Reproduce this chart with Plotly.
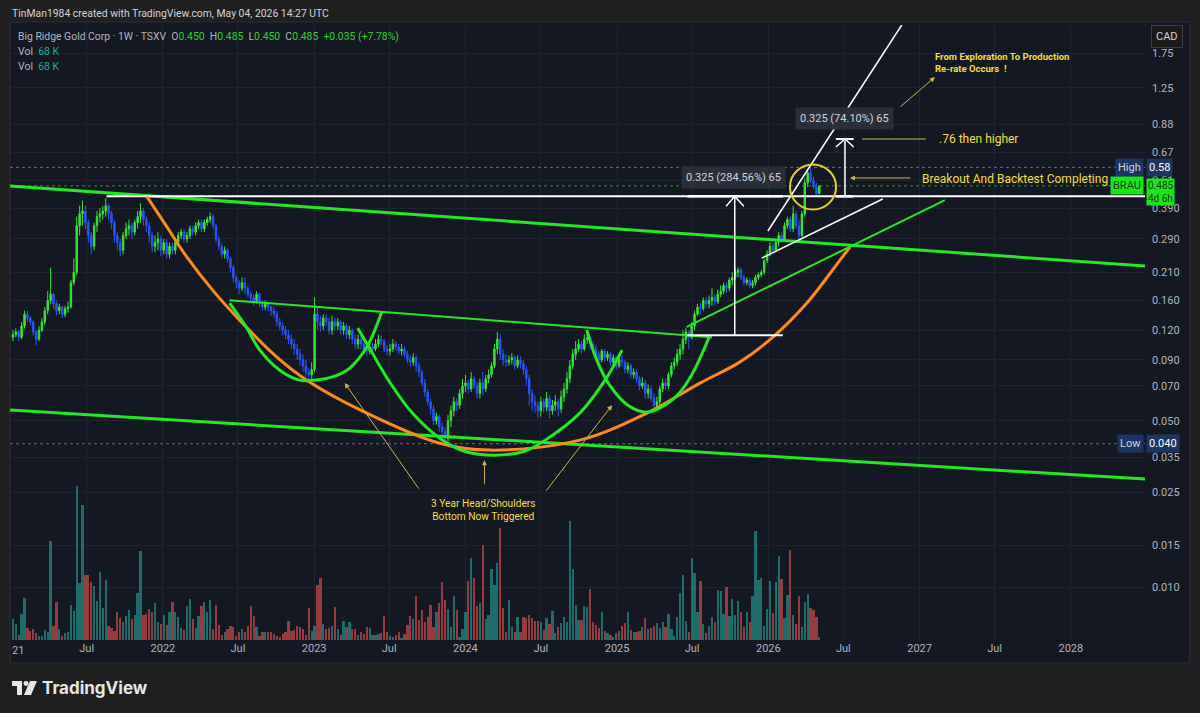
import math
import pandas as pd
import plotly.graph_objects as go

# ---------------- DATA ----------------
week_start = "2021-01-04"

open_ = [
    0.112, 0.115, 0.118, 0.112, 0.125, 0.14, 0.135, 0.13, 0.118, 0.11,
    0.12, 0.13, 0.145, 0.16, 0.17, 0.155, 0.145, 0.15, 0.14, 0.148,
    0.15, 0.19, 0.21, 0.33, 0.37, 0.38, 0.34, 0.3, 0.27, 0.33,
    0.36, 0.37, 0.38, 0.4, 0.37, 0.34, 0.3, 0.28, 0.26, 0.3,
    0.32, 0.33, 0.31, 0.34, 0.36, 0.38, 0.35, 0.33, 0.3, 0.27,
    0.28, 0.29, 0.26, 0.28, 0.25, 0.27, 0.26, 0.28, 0.3, 0.31,
    0.29, 0.3, 0.32, 0.31, 0.33, 0.34, 0.32, 0.34, 0.35, 0.36,
    0.33, 0.29, 0.27, 0.25, 0.26, 0.24, 0.22, 0.2, 0.19, 0.18,
    0.19, 0.18, 0.17, 0.165, 0.16, 0.17, 0.155, 0.15, 0.155, 0.15,
    0.145, 0.14, 0.13, 0.125, 0.12, 0.115, 0.11, 0.105, 0.1, 0.095,
    0.09, 0.085, 0.08, 0.078, 0.082, 0.14, 0.13, 0.125, 0.135, 0.13,
    0.12, 0.13, 0.125, 0.13, 0.12, 0.125, 0.115, 0.12, 0.11, 0.105,
    0.11, 0.105, 0.1, 0.098, 0.102, 0.1, 0.105, 0.11, 0.108, 0.1,
    0.098, 0.1, 0.105, 0.102, 0.098, 0.1, 0.095, 0.09, 0.088, 0.092,
    0.085, 0.08, 0.072, 0.066, 0.06, 0.056, 0.05, 0.052, 0.047, 0.045,
    0.042, 0.05, 0.055, 0.06, 0.058, 0.065, 0.07, 0.072, 0.068, 0.075,
    0.07, 0.065, 0.072, 0.068, 0.075, 0.078, 0.085, 0.1, 0.11, 0.095,
    0.09, 0.088, 0.09, 0.092, 0.085, 0.09, 0.087, 0.082, 0.075, 0.065,
    0.06, 0.058, 0.055, 0.06, 0.057, 0.062, 0.055, 0.058, 0.06, 0.056,
    0.063, 0.068, 0.075, 0.085, 0.095, 0.1, 0.105, 0.1, 0.11, 0.112,
    0.105, 0.1, 0.095, 0.09, 0.098, 0.092, 0.095, 0.088, 0.092, 0.085,
    0.09, 0.088, 0.082, 0.085, 0.078, 0.08, 0.075, 0.07, 0.072, 0.065,
    0.068, 0.062, 0.058, 0.06, 0.068, 0.072, 0.07, 0.078, 0.085, 0.088,
    0.095, 0.1, 0.11, 0.118, 0.112, 0.125, 0.14, 0.15, 0.148, 0.16,
    0.155, 0.16, 0.165, 0.158, 0.17, 0.175, 0.185, 0.18, 0.195, 0.2,
    0.21, 0.215, 0.2, 0.19, 0.195, 0.185, 0.19, 0.2, 0.205, 0.21,
    0.235, 0.25, 0.27, 0.26, 0.28, 0.3, 0.29, 0.33, 0.35, 0.32,
    0.37, 0.33, 0.3, 0.37, 0.5, 0.55, 0.51, 0.48, 0.45,
]
high = [
    0.12, 0.122, 0.12, 0.13, 0.145, 0.145, 0.138, 0.132, 0.12, 0.125,
    0.135, 0.15, 0.175, 0.22, 0.172, 0.16, 0.155, 0.152, 0.152, 0.158,
    0.195, 0.24, 0.36, 0.4, 0.42, 0.4, 0.35, 0.31, 0.34, 0.38,
    0.39, 0.4, 0.43, 0.41, 0.38, 0.35, 0.31, 0.29, 0.31, 0.34,
    0.35, 0.34, 0.35, 0.38, 0.41, 0.39, 0.36, 0.34, 0.31, 0.3,
    0.31, 0.3, 0.29, 0.29, 0.28, 0.28, 0.29, 0.31, 0.32, 0.32,
    0.31, 0.33, 0.33, 0.34, 0.35, 0.35, 0.35, 0.36, 0.375, 0.37,
    0.335, 0.3, 0.28, 0.27, 0.265, 0.245, 0.225, 0.205, 0.195, 0.2,
    0.2, 0.185, 0.175, 0.17, 0.175, 0.172, 0.16, 0.16, 0.158, 0.152,
    0.15, 0.145, 0.135, 0.13, 0.125, 0.12, 0.115, 0.11, 0.105, 0.1,
    0.095, 0.09, 0.083, 0.088, 0.165, 0.15, 0.138, 0.14, 0.14, 0.135,
    0.138, 0.135, 0.135, 0.132, 0.13, 0.128, 0.125, 0.122, 0.115, 0.115,
    0.115, 0.11, 0.104, 0.106, 0.106, 0.11, 0.115, 0.114, 0.11, 0.104,
    0.105, 0.11, 0.108, 0.105, 0.105, 0.103, 0.098, 0.094, 0.096, 0.094,
    0.088, 0.082, 0.075, 0.068, 0.062, 0.058, 0.054, 0.053, 0.049, 0.047,
    0.053, 0.058, 0.063, 0.062, 0.068, 0.075, 0.078, 0.074, 0.08, 0.077,
    0.073, 0.075, 0.08, 0.078, 0.082, 0.088, 0.105, 0.118, 0.116, 0.1,
    0.095, 0.094, 0.096, 0.094, 0.094, 0.093, 0.09, 0.085, 0.078, 0.068,
    0.064, 0.06, 0.063, 0.062, 0.066, 0.064, 0.061, 0.064, 0.062, 0.067,
    0.072, 0.08, 0.09, 0.1, 0.108, 0.11, 0.108, 0.115, 0.12, 0.114,
    0.108, 0.104, 0.098, 0.1, 0.1, 0.098, 0.097, 0.095, 0.094, 0.093,
    0.094, 0.09, 0.088, 0.087, 0.083, 0.082, 0.077, 0.076, 0.074, 0.071,
    0.07, 0.065, 0.063, 0.07, 0.075, 0.075, 0.08, 0.088, 0.092, 0.1,
    0.105, 0.12, 0.123, 0.12, 0.13, 0.145, 0.155, 0.156, 0.165, 0.165,
    0.168, 0.18, 0.17, 0.178, 0.185, 0.19, 0.19, 0.2, 0.21, 0.22,
    0.22, 0.22, 0.205, 0.2, 0.198, 0.195, 0.205, 0.21, 0.215, 0.24,
    0.26, 0.28, 0.28, 0.29, 0.31, 0.31, 0.34, 0.36, 0.36, 0.4,
    0.38, 0.35, 0.38, 0.52, 0.56, 0.58, 0.53, 0.5, 0.485,
]
low = [
    0.108, 0.112, 0.108, 0.11, 0.122, 0.13, 0.126, 0.114, 0.104, 0.108,
    0.118, 0.126, 0.14, 0.155, 0.148, 0.138, 0.14, 0.135, 0.136, 0.142,
    0.148, 0.185, 0.205, 0.3, 0.33, 0.32, 0.28, 0.25, 0.26, 0.31,
    0.34, 0.35, 0.36, 0.35, 0.32, 0.28, 0.26, 0.245, 0.25, 0.29,
    0.3, 0.29, 0.3, 0.32, 0.34, 0.33, 0.31, 0.28, 0.255, 0.255,
    0.26, 0.245, 0.25, 0.24, 0.24, 0.25, 0.25, 0.27, 0.29, 0.28,
    0.28, 0.29, 0.3, 0.3, 0.32, 0.31, 0.31, 0.33, 0.34, 0.32,
    0.28, 0.26, 0.24, 0.24, 0.23, 0.21, 0.19, 0.18, 0.17, 0.175,
    0.17, 0.165, 0.158, 0.152, 0.155, 0.15, 0.145, 0.146, 0.144, 0.138,
    0.135, 0.125, 0.12, 0.114, 0.11, 0.105, 0.1, 0.095, 0.09, 0.085,
    0.08, 0.076, 0.074, 0.075, 0.08, 0.12, 0.118, 0.12, 0.125, 0.115,
    0.115, 0.12, 0.12, 0.115, 0.115, 0.11, 0.11, 0.105, 0.1, 0.1,
    0.1, 0.096, 0.094, 0.095, 0.096, 0.098, 0.102, 0.104, 0.097, 0.094,
    0.094, 0.097, 0.098, 0.095, 0.094, 0.092, 0.087, 0.084, 0.085, 0.08,
    0.076, 0.07, 0.063, 0.058, 0.053, 0.048, 0.048, 0.045, 0.043, 0.04,
    0.041, 0.047, 0.052, 0.055, 0.056, 0.062, 0.066, 0.065, 0.066, 0.068,
    0.062, 0.062, 0.064, 0.066, 0.072, 0.076, 0.083, 0.095, 0.09, 0.085,
    0.084, 0.085, 0.086, 0.082, 0.083, 0.083, 0.078, 0.07, 0.058, 0.055,
    0.054, 0.051, 0.052, 0.054, 0.055, 0.051, 0.053, 0.055, 0.052, 0.054,
    0.06, 0.065, 0.072, 0.082, 0.09, 0.097, 0.096, 0.098, 0.105, 0.1,
    0.096, 0.09, 0.086, 0.088, 0.088, 0.089, 0.085, 0.085, 0.082, 0.083,
    0.084, 0.079, 0.079, 0.075, 0.075, 0.072, 0.067, 0.068, 0.062, 0.062,
    0.06, 0.0565, 0.056, 0.058, 0.066, 0.067, 0.068, 0.076, 0.082, 0.085,
    0.09, 0.095, 0.105, 0.1, 0.11, 0.12, 0.138, 0.14, 0.145, 0.148,
    0.148, 0.152, 0.152, 0.155, 0.165, 0.17, 0.172, 0.175, 0.185, 0.195,
    0.2, 0.195, 0.185, 0.185, 0.18, 0.18, 0.185, 0.195, 0.2, 0.205,
    0.23, 0.245, 0.25, 0.255, 0.27, 0.28, 0.285, 0.32, 0.31, 0.31,
    0.32, 0.287, 0.295, 0.36, 0.48, 0.5, 0.47, 0.44, 0.45,
]
close = [
    0.115, 0.118, 0.112, 0.125, 0.14, 0.135, 0.13, 0.118, 0.11, 0.12,
    0.13, 0.145, 0.16, 0.17, 0.155, 0.145, 0.15, 0.14, 0.148, 0.15,
    0.19, 0.21, 0.33, 0.37, 0.38, 0.34, 0.3, 0.27, 0.33, 0.36,
    0.37, 0.38, 0.4, 0.37, 0.34, 0.3, 0.28, 0.26, 0.3, 0.32,
    0.33, 0.31, 0.34, 0.36, 0.38, 0.35, 0.33, 0.3, 0.27, 0.28,
    0.29, 0.26, 0.28, 0.25, 0.27, 0.26, 0.28, 0.3, 0.31, 0.29,
    0.3, 0.32, 0.31, 0.33, 0.34, 0.32, 0.34, 0.35, 0.36, 0.33,
    0.29, 0.27, 0.25, 0.26, 0.24, 0.22, 0.2, 0.19, 0.18, 0.19,
    0.18, 0.17, 0.165, 0.16, 0.17, 0.155, 0.15, 0.155, 0.15, 0.145,
    0.14, 0.13, 0.125, 0.12, 0.115, 0.11, 0.105, 0.1, 0.095, 0.09,
    0.085, 0.08, 0.078, 0.082, 0.14, 0.13, 0.125, 0.135, 0.13, 0.12,
    0.13, 0.125, 0.13, 0.12, 0.125, 0.115, 0.12, 0.11, 0.105, 0.11,
    0.105, 0.1, 0.098, 0.102, 0.1, 0.105, 0.11, 0.108, 0.1, 0.098,
    0.1, 0.105, 0.102, 0.098, 0.1, 0.095, 0.09, 0.088, 0.092, 0.085,
    0.08, 0.072, 0.066, 0.06, 0.056, 0.05, 0.052, 0.047, 0.045, 0.042,
    0.05, 0.055, 0.06, 0.058, 0.065, 0.07, 0.072, 0.068, 0.075, 0.07,
    0.065, 0.072, 0.068, 0.075, 0.078, 0.085, 0.1, 0.11, 0.095, 0.09,
    0.088, 0.09, 0.092, 0.085, 0.09, 0.087, 0.082, 0.075, 0.065, 0.06,
    0.058, 0.055, 0.06, 0.057, 0.062, 0.055, 0.058, 0.06, 0.056, 0.063,
    0.068, 0.075, 0.085, 0.095, 0.1, 0.105, 0.1, 0.11, 0.112, 0.105,
    0.1, 0.095, 0.09, 0.098, 0.092, 0.095, 0.088, 0.092, 0.085, 0.09,
    0.088, 0.082, 0.085, 0.078, 0.08, 0.075, 0.07, 0.072, 0.065, 0.068,
    0.062, 0.058, 0.06, 0.068, 0.072, 0.07, 0.078, 0.085, 0.088, 0.095,
    0.1, 0.11, 0.118, 0.112, 0.125, 0.14, 0.15, 0.148, 0.16, 0.155,
    0.16, 0.165, 0.158, 0.17, 0.175, 0.185, 0.18, 0.195, 0.2, 0.21,
    0.215, 0.2, 0.19, 0.195, 0.185, 0.19, 0.2, 0.205, 0.21, 0.235,
    0.25, 0.27, 0.26, 0.28, 0.3, 0.29, 0.33, 0.35, 0.32, 0.37,
    0.33, 0.3, 0.37, 0.5, 0.55, 0.51, 0.48, 0.45, 0.485,
]
# weekly volume (units of ~23K shares)
volume = [
    21, 16, 5, 26, 42, 12, 9, 11, 7, 4,
    4, 10, 8, 99, 14, 38, 11, 4, 7, 8,
    35, 29, 154, 57, 135, 65, 65, 58, 54, 39,
    68, 32, 60, 14, 12, 9, 28, 22, 18, 24,
    30, 21, 25, 47, 89, 25, 26, 31, 28, 37,
    18, 16, 25, 15, 28, 38, 28, 23, 12, 10,
    34, 41, 21, 12, 24, 34, 38, 28, 40, 11,
    35, 15, 5, 8, 11, 14, 13, 4, 8, 11,
    8, 14, 34, 24, 13, 4, 8, 8, 8, 8,
    6, 4, 3, 6, 8, 19, 9, 10, 14, 13,
    11, 5, 32, 9, 14, 55, 62, 16, 11, 12,
    14, 33, 11, 5, 19, 13, 18, 11, 11, 5,
    8, 6, 13, 12, 5, 5, 6, 7, 24, 8,
    4, 3, 5, 8, 2, 6, 15, 24, 21, 44,
    20, 30, 18, 23, 35, 13, 28, 37, 58, 40,
    31, 13, 44, 30, 3, 11, 28, 59, 82, 62,
    34, 37, 95, 21, 25, 71, 55, 77, 112, 32,
    8, 40, 13, 8, 23, 8, 23, 22, 25, 22,
    19, 19, 18, 10, 22, 16, 29, 7, 13, 17,
    23, 18, 119, 71, 35, 20, 20, 34, 33, 51,
    18, 15, 12, 28, 9, 7, 5, 3, 7, 9,
    14, 17, 28, 10, 8, 8, 9, 13, 22, 11,
    12, 14, 17, 12, 18, 13, 26, 11, 4, 23,
    47, 65, 19, 8, 82, 67, 28, 59, 16, 7,
    14, 23, 18, 50, 49, 26, 53, 24, 41, 25,
    39, 28, 13, 28, 18, 44, 109, 60, 62, 14,
    31, 59, 27, 58, 84, 61, 22, 45, 90, 25,
    16, 44, 13, 38, 46, 32, 30, 23, 3,
]

price_ticks = [1.75, 1.25, 0.88, 0.67, 0.51, 0.39, 0.29, 0.21, 0.16, 0.12,
               0.09, 0.07, 0.05, 0.035, 0.025, 0.015, 0.01]
price_tick_text = ["1.75", "1.25", "0.88", "0.67", "0.51", "0.390", "0.290", "0.210",
                   "0.160", "0.120", "0.090", "0.070", "0.050", "0.035", "0.025",
                   "0.015", "0.010"]
date_ticks = ["2021-07-01", "2022-01-01", "2022-07-01", "2023-01-01",
              "2023-07-01", "2024-01-01", "2024-07-01", "2025-01-01", "2025-07-01",
              "2026-01-01", "2026-07-01", "2027-01-01", "2027-07-01", "2028-01-01"]
date_tick_text = ["Jul", "2022", "Jul", "2023", "Jul", "2024", "Jul", "2025",
                  "Jul", "2026", "Jul", "2027", "Jul", "2028"]

# ---------------- STYLE ----------------
UP = "#35e635"
DOWN = "#2a55ff"
VOL_UP = "rgba(38,166,154,0.6)"
VOL_DN = "rgba(239,83,80,0.6)"
LIME = "#25e825"
ORANGE = "#ff8a1c"
YEL = "#f2df3a"
YEL_LINE = "#c9b846"
TXT = "#b2b5be"
PANEL = "#141823"
PAGE = "#1f1f1f"
FONT = "Roboto"

X_RANGE = ["2020-12-28", "2028-06-28"]
Y_RANGE = [-2.2227, 0.3616]

dates = pd.date_range(week_start, periods=len(close), freq="7D")
vol_colors = [VOL_UP if c >= o else VOL_DN for o, c in zip(open_, close)]

fig = go.Figure()

# volume (linear hidden axis y)
fig.add_trace(go.Bar(x=dates, y=volume, marker=dict(color=vol_colors, line=dict(width=0)),
                     width=5.5 * 86400000, yaxis="y", hoverinfo="skip"))

# price candles (log axis y2)
fig.add_trace(go.Candlestick(
    x=dates, open=open_, high=high, low=low, close=close, yaxis="y2",
    increasing=dict(line=dict(color=UP, width=1), fillcolor=UP),
    decreasing=dict(line=dict(color=DOWN, width=1), fillcolor=DOWN),
    whiskerwidth=0, hoverinfo="skip"))


def line(xs, ys, color, width, dash="solid", shape="linear"):
    fig.add_trace(go.Scatter(x=xs, y=ys, mode="lines", yaxis="y2", hoverinfo="skip",
                             line=dict(color=color, width=width, dash=dash, shape=shape)))


# reference dotted lines: high / last / low
line(X_RANGE, [max(high)] * 2, "#6b6f7a", 1, "dot")
line(X_RANGE, [close[-1]] * 2, "#1f9a2a", 1, "dot")
line(X_RANGE, [min(low)] * 2, "#6b6f7a", 1, "dot")

# long descending channel
line(["2020-12-28", "2028-06-28"], [0.484, 0.2233], LIME, 3)
line(["2020-12-28", "2028-06-28"], [0.0554, 0.0284], LIME, 3)

# white neckline
NECK = 0.438
line(["2021-08-18", "2028-06-28"], [NECK, NECK], "#ffffff", 2)

# orange rounding bottom
line(["2021-11-23", "2022-01-11", "2022-02-28", "2022-05-01", "2022-07-05", "2022-10-03",
      "2022-12-14", "2023-05-08", "2023-10-31", "2024-02-28", "2024-10-03", "2025-03-14",
      "2025-07-20", "2025-10-24", "2026-01-12", "2026-04-04", "2026-06-23", "2026-07-17"],
     [NECK, 0.3253, 0.2433, 0.1768, 0.1323, 0.0925, 0.0740, 0.0538, 0.0402, 0.0376,
      0.0414, 0.0538, 0.0719, 0.0881, 0.1122, 0.156, 0.2364, 0.2681],
     ORANGE, 3, shape="spline")

# head & shoulders cups
line(["2022-06-11", "2022-07-18", "2022-08-23", "2022-10-10", "2022-11-27", "2023-01-02",
      "2023-02-20", "2023-03-28", "2023-05-08", "2023-06-13"],
     [0.156, 0.1261, 0.099, 0.0815, 0.074, 0.074, 0.077, 0.0832, 0.1019, 0.1431],
     LIME, 3, shape="spline")
line(["2023-04-16", "2023-05-20", "2023-07-02", "2023-08-26", "2023-10-31", "2023-12-30",
      "2024-03-11", "2024-05-23", "2024-07-23", "2024-10-03", "2024-12-03", "2025-01-13"],
     [0.1225, 0.0972, 0.0727, 0.0538, 0.0422, 0.0372, 0.0358, 0.0372, 0.0427, 0.0538,
      0.074, 0.099],
     LIME, 3, shape="spline")
line(["2024-10-20", "2024-11-13", "2024-12-14", "2025-01-27", "2025-03-14", "2025-04-26",
      "2025-06-02", "2025-06-30", "2025-07-27", "2025-08-13"],
     [0.1201, 0.0898, 0.0705, 0.0581, 0.0543, 0.0581, 0.0659, 0.0777, 0.0972, 0.1144],
     LIME, 3, shape="spline")

# thin green lines
line(["2022-06-11", "2025-08-18"], [0.1605, 0.1122], LIME, 2)
line(["2025-06-18", "2027-03-03"], [0.1238, 0.4224], LIME, 2)

# white rising wedge
line(["2025-12-31", "2026-11-19"], [0.3133, 2.3], "#ffffff", 1.5)
line(["2025-12-16", "2026-10-04"], [0.241, 0.427], "#ffffff", 1.5)

# measure tools
M_LOW = 0.1142
M_TOP = 0.763
line(["2025-06-18", "2026-02-05"], [M_LOW, M_LOW], "#ffffff", 2)
line(["2025-06-18", "2026-02-05"], [NECK, NECK], "#ffffff", 2.5)
line(["2025-10-12", "2025-10-12"], [M_LOW, NECK], "#ffffff", 1.5)
line(["2025-09-21", "2025-10-12", "2025-11-03"], [0.3984, NECK, 0.3984], "#ffffff", 1.5)
line(["2026-07-05", "2026-07-05"], [NECK, M_TOP], "#ffffff", 1.5)
line(["2026-06-13", "2026-07-26"], [M_TOP, M_TOP], "#ffffff", 2)
line(["2026-06-13", "2026-07-05", "2026-07-26"], [0.7063, M_TOP, 0.7063], "#ffffff", 1.5)
line(["2026-06-13", "2026-07-26"], [NECK, NECK], "#ffffff", 2.5)

# ".76 then higher" connector
line(["2026-08-15", "2027-01-16"], [M_TOP, M_TOP], YEL_LINE, 1)

lg = math.log10
ann = []


def text(x, y, t, size=12, color=YEL, xanchor="left", bold=False, **kw):
    ann.append(dict(x=x, y=lg(y), xref="x", yref="y2", text=(f"<b>{t}</b>" if bold else t),
                    showarrow=False, xanchor=xanchor, yanchor="middle",
                    font=dict(family=FONT, size=size, color=color), **kw))


def arrow(x, y, ax, ay):
    ann.append(dict(x=x, y=lg(y), xref="x", yref="y2", text="", showarrow=True,
                    arrowhead=2, arrowsize=1, arrowwidth=1, arrowcolor=YEL_LINE,
                    ax=ax, ay=ay))


# measure labels
text("2025-10-08", 0.5257, "0.325 (284.56%) 65", size=11, color="#d1d4dc",
     xanchor="center", bgcolor="#2a2e39", borderpad=4)
text("2026-07-05", 0.9261, "0.325 (74.10%) 65", size=11, color="#d1d4dc",
     xanchor="center", bgcolor="#2a2e39", borderpad=4)

# yellow notes
text("2027-01-02", 0.5186, "Breakout And Backtest Completing", size=12)
text("2027-02-12", M_TOP, ".76 then higher", size=12)
text("2027-02-02", 1.592, "From Exploration To Production<br>Re-rate Occurs \u00a0!", size=9.5,
     bold=True, align="left")
ann.append(dict(x="2024-02-14", y=lg(0.02106), xref="x", yref="y2",
                text="3 Year Head/Shoulders<br>Bottom Now Triggered", showarrow=False,
                xanchor="center", yanchor="middle", align="center",
                font=dict(family=FONT, size=10.2, color=YEL)))
arrow("2026-07-17", 0.5233, 62, 0)
arrow("2027-02-07", 1.39, -36, 31)
arrow("2023-03-16", 0.0719, 75, 107)
arrow("2024-02-16", 0.0341, 0, 25)
arrow("2024-12-20", 0.0581, -67, 87)

# first year label, clipped by the pane's left edge in the reference
ann.append(dict(x=0.0, y=-0.0163, xref="paper", yref="paper", text="21", showarrow=False,
                xanchor="left", yanchor="middle", font=dict(family=FONT, size=11, color=TXT)))

# right-hand price labels
BLUE = "#1d3563"
GREEN_BOX = "#19e619"
for lbl, val, vtxt, bg, fg in [("High", max(high), f"{max(high):.2f}", BLUE, "#d1d4dc"),
                               ("Low", min(low), f"{min(low):.3f}", BLUE, "#d1d4dc")]:
    ann.append(dict(x=1, y=lg(val), xref="paper", yref="y2", text=lbl, showarrow=False,
                    xanchor="right", yanchor="middle", xshift=-1, bgcolor=bg, borderpad=2,
                    font=dict(family=FONT, size=11, color=fg)))
    ann.append(dict(x=1, y=lg(val), xref="paper", yref="y2", text=vtxt, showarrow=False,
                    xanchor="left", yanchor="middle", xshift=1, bgcolor=bg, borderpad=2,
                    font=dict(family=FONT, size=11, color="#ffffff")))
ann.append(dict(x=1, y=lg(close[-1]), xref="paper", yref="y2", text="BRAU", showarrow=False,
                xanchor="right", yanchor="middle", xshift=-1, bgcolor=GREEN_BOX, borderpad=2,
                font=dict(family=FONT, size=11, color="#0b3d0b")))
ann.append(dict(x=1, y=lg(close[-1]), xref="paper", yref="y2",
                text=f"{close[-1]:.3f}<br>4d 6h", showarrow=False, align="left",
                xanchor="left", yanchor="top", xshift=1, yshift=8, bgcolor=GREEN_BOX,
                borderpad=1, font=dict(family=FONT, size=10, color="#0b3d0b")))

# header
G = "#2fd12f"
chg = close[-1] - close[-2]
pct = chg / close[-2] * 100
sp = "\u00a0"
legend_txt = (f"Big Ridge Gold Corp · 1W · TSXV{sp}{sp}O<span style='color:{G}'>{open_[-1]:.3f}</span>"
              f"{sp}{sp}H<span style='color:{G}'>{high[-1]:.3f}</span>"
              f"{sp}{sp}L<span style='color:{G}'>{low[-1]:.3f}</span>"
              f"{sp}{sp}C<span style='color:{G}'>{close[-1]:.3f}</span>"
              f"{sp}{sp}<span style='color:{G}'>+{chg:.3f} (+{pct:.2f}%)</span>")
for t, x, y, size, col in [
        ("TinMan1984 created with TradingView.com, May 04, 2026 14:27 UTC", 0.0, 1.0195, 10.4, "#d1d4dc"),
        (legend_txt, 0.0053, 0.9805, 10.4, TXT),
        (f"Vol{sp}{sp}<span style='color:#22ab94'>68 K</span>", 0.0053, 0.9561, 10.5, TXT),
        (f"Vol{sp}{sp}<span style='color:#22ab94'>68 K</span>", 0.0053, 0.9333, 10.5, TXT)]:
    ann.append(dict(x=x, y=y, xref="paper", yref="paper", text=t, showarrow=False,
                    xanchor="left", yanchor="middle", font=dict(family=FONT, size=size, color=col)))

ann.append(dict(x=1.0194, y=0.9805, xref="paper", yref="paper", text="CAD", showarrow=False,
                xanchor="center", yanchor="middle", bgcolor="#1a1a1a", bordercolor="#3a3d45",
                borderwidth=1, borderpad=4, font=dict(family=FONT, size=11, color="#d1d4dc")))
ann.append(dict(x=0.0264, y=-0.078, xref="paper", yref="paper", text="<b>TradingView</b>",
                showarrow=False, xanchor="left", yanchor="middle",
                font=dict(family="Inter", size=17, color="#e6e6e6")))

shapes = [
    dict(type="rect", xref="paper", yref="paper", x0=0, x1=1.0396, y0=-0.0374, y1=1.0049,
         fillcolor=PANEL, line=dict(color="#2a2e39", width=1), layer="below"),
    dict(type="circle", xref="paper", yref="paper", x0=0.7075 - 0.0203, x1=0.7075 + 0.0203,
         y0=0.7366 - 0.0366, y1=0.7366 + 0.0366, line=dict(color="#e6d21e", width=2)),
    # TradingView logo
    dict(type="rect", xref="paper", yref="paper", x0=0.00176, x1=0.01057, y0=-0.0748, y1=-0.0667,
         fillcolor="#e6e6e6", line=dict(width=0)),
    dict(type="rect", xref="paper", yref="paper", x0=0.00617, x1=0.01057, y0=-0.0894, y1=-0.0667,
         fillcolor="#e6e6e6", line=dict(width=0)),
    dict(type="circle", xref="paper", yref="paper", x0=0.0119, x1=0.0163, y0=-0.0748, y1=-0.0667,
         fillcolor="#e6e6e6", line=dict(width=0)),
    dict(type="path", xref="paper", yref="paper",
         path="M 0.0176,-0.0667 L 0.0238,-0.0667 L 0.0185,-0.0894 L 0.0123,-0.0894 Z",
         fillcolor="#e6e6e6", line=dict(width=0)),
]

fig.update_layout(
    width=1200, height=713,
    margin=dict(l=10, r=55, t=25, b=73),
    paper_bgcolor=PAGE, plot_bgcolor="rgba(0,0,0,0)",
    showlegend=False,
    font=dict(family=FONT, size=11, color=TXT),
    annotations=ann, shapes=shapes,
    bargap=0,
    xaxis=dict(type="date", range=X_RANGE, tickvals=date_ticks, ticktext=date_tick_text,
               showgrid=True, gridcolor="#1f2330", gridwidth=1, zeroline=False, showline=False,
               ticks="", tickfont=dict(family=FONT, size=11, color=TXT),
               rangeslider=dict(visible=False), automargin=False, fixedrange=True),
    yaxis=dict(range=[0, 615], visible=False, showgrid=False, fixedrange=True),
    yaxis2=dict(type="log", range=Y_RANGE, overlaying="y", side="right", tickvals=price_ticks,
                ticktext=price_tick_text, showgrid=True, gridcolor="#1f2330", gridwidth=1,
                zeroline=False, showline=False, ticks="", ticklabelstandoff=6,
                tickfont=dict(family=FONT, size=11, color=TXT), automargin=False,
                fixedrange=True),
)

# remove the browser's default 8px body margin so the figure sits at the page origin
fig.write_html("out.html", config={"displayModeBar": False},
               post_script="document.body.style.margin='0';"
                           "document.body.style.background='#1f1f1f';")
